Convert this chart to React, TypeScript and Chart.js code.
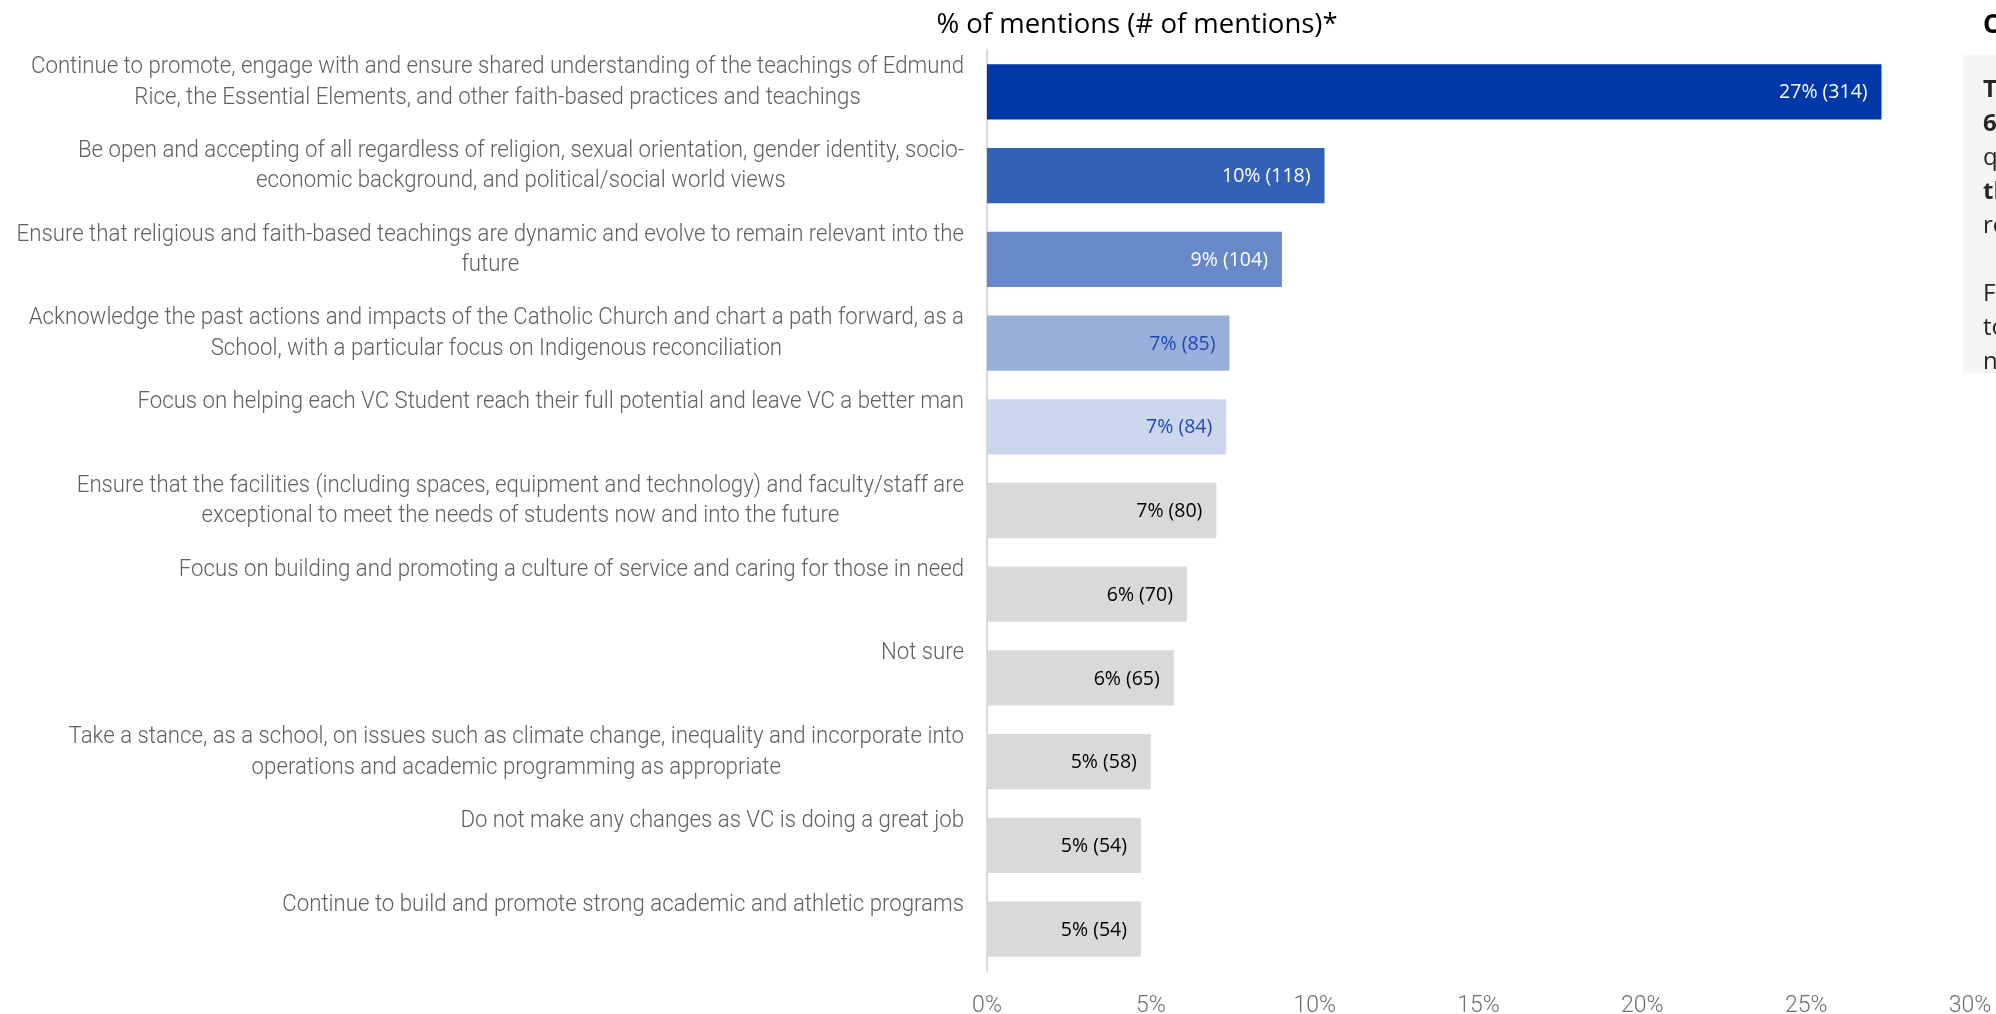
import React, { useEffect, useRef } from "react";
import { Chart, registerables } from "chart.js";

Chart.register(...registerables);

const categories: string[][] = [
  [
    "Continue to promote, engage with and ensure shared understanding of the teachings of Edmund",
    "Rice, the Essential Elements, and other faith-based practices and teachings",
  ],
  [
    "Be open and accepting of all regardless of religion, sexual orientation, gender identity, socio-",
    "economic background, and political/social world views",
  ],
  [
    "Ensure that religious and faith-based teachings are dynamic and evolve to remain relevant into the",
    "future",
  ],
  [
    "Acknowledge the past actions and impacts of the Catholic Church and chart a path forward, as a",
    "School, with a particular focus on Indigenous reconciliation",
  ],
  ["Focus on helping each VC Student reach their full potential and leave VC a better man"],
  [
    "Ensure that the facilities (including spaces, equipment and technology) and faculty/staff are",
    "exceptional to meet the needs of students now and into the future",
  ],
  ["Focus on building and promoting a culture of service and caring for those in need"],
  ["Not sure"],
  [
    "Take a stance, as a school, on issues such as climate change, inequality and incorporate into",
    "operations and academic programming as appropriate",
  ],
  ["Do not make any changes as VC is doing a great job"],
  ["Continue to build and promote strong academic and athletic programs"],
];

const percentages = [27.3, 10.3, 9.0, 7.4, 7.3, 7.0, 6.1, 5.7, 5.0, 4.7, 4.7];
const mentions = [314, 118, 104, 85, 84, 80, 70, 65, 58, 54, 54];
const xTickValues = [0, 5, 10, 15, 20, 25, 30];

const barColors = [
  "#0038A8",
  "#3361B7",
  "#6788C9",
  "#9AB0DC",
  "#CCD7EE",
  "#D9D9D9",
  "#D9D9D9",
  "#D9D9D9",
  "#D9D9D9",
  "#D9D9D9",
  "#D9D9D9",
];
const labelColors = [
  "#FFFFFF",
  "#FFFFFF",
  "#FFFFFF",
  "#1E48B0",
  "#1E48B0",
  "#000000",
  "#000000",
  "#000000",
  "#000000",
  "#000000",
  "#000000",
];

const LABEL_FONT = "Roboto, 'Open Sans', sans-serif";
const SANS = "'Open Sans', 'Noto Sans', sans-serif";

const panelLines: { text: string; bold: boolean }[] = [
  { text: "The question was answered by", bold: true },
  { text: "612 respondents. The open-ended", bold: true },
  { text: "question asked what should be", bold: false },
  { text: "the top priorities for the School", bold: true },
  { text: "relating to its Catholic identity.", bold: false },
  { text: "\u00a0", bold: false },
  { text: "Feedback has been coded into", bold: false },
  { text: "topics, with each comment given", bold: false },
  { text: "no more than one mention per topic.", bold: false },
];

export default function App() {
  const canvasRef = useRef<HTMLCanvasElement | null>(null);

  useEffect(() => {
    const canvas = canvasRef.current;
    if (!canvas) return;

    const dataLabelPlugin = {
      id: "dataLabels",
      afterDatasetsDraw(chart: any) {
        const ctx = chart.ctx;
        const meta = chart.getDatasetMeta(0);
        ctx.save();
        ctx.font = `19.5px ${SANS}`;
        ctx.textAlign = "right";
        ctx.textBaseline = "middle";
        meta.data.forEach((bar: any, i: number) => {
          ctx.fillStyle = labelColors[i];
          const txt = `${Math.round(percentages[i])}% (${mentions[i]})`;
          ctx.fillText(txt, bar.x - 14, bar.y + 1);
        });
        ctx.restore();
      },
    };

    const categoryLabelPlugin = {
      id: "categoryLabels",
      afterDraw(chart: any) {
        const ctx = chart.ctx;
        const meta = chart.getDatasetMeta(0);
        const right = chart.chartArea.left - 23;
        const lineH = 30.5;
        ctx.save();
        ctx.font = `300 24px ${LABEL_FONT}`;
        // condense horizontally to mimic a narrow light face
        const squeeze = 933 / ctx.measureText(categories[0][0]).width;
        ctx.fillStyle = "#606060";
        ctx.textBaseline = "middle";
        ctx.textAlign = "center";
        meta.data.forEach((bar: any, i: number) => {
          const lines = categories[i];
          const widths = lines.map((l) => ctx.measureText(l).width * squeeze);
          const blockW = Math.max(...widths);
          const cx = right - blockW / 2;
          const top = bar.y - bar.height / 2 + 3;
          lines.forEach((l, j) => {
            ctx.save();
            ctx.translate(cx, top + j * lineH);
            ctx.scale(squeeze, 1);
            ctx.fillText(l, 0, 0);
            ctx.restore();
          });
        });
        ctx.restore();
      },
    };

    const chart = new Chart(canvas, {
      type: "bar",
      data: {
        labels: categories.map((c) => c.join(" ")),
        datasets: [
          {
            data: percentages,
            backgroundColor: barColors,
            barPercentage: 0.66,
            categoryPercentage: 1,
          },
        ],
      },
      options: {
        indexAxis: "y",
        animation: false,
        responsive: true,
        maintainAspectRatio: false,
        layout: { padding: { left: 987, top: 50, right: 26, bottom: 0 } },
        plugins: {
          legend: { display: false },
          tooltip: { enabled: false },
          title: { display: false },
        },
        scales: {
          x: {
            min: 0,
            max: 30,
            afterBuildTicks: (scale: any) => {
              scale.ticks = xTickValues.map((v) => ({ value: v }));
            },
            ticks: {
              callback: (v: any) => `${v}%`,
              font: { family: LABEL_FONT, size: 23, weight: "300" },
              color: "#6E6E6E",
              padding: 21,
              maxRotation: 0,
            },
            grid: { display: false, drawTicks: false },
            border: { display: false },
            afterFit: (scale: any) => {
              scale.height = 43;
              scale.paddingLeft = 0;
              scale.paddingRight = 0;
            },
          },
          y: {
            ticks: { display: false },
            grid: { display: false, drawTicks: false },
            border: { display: true, color: "#D9D9D9", width: 2 },
            afterFit: (scale: any) => {
              scale.width = 0;
            },
          },
        },
      },
      plugins: [dataLabelPlugin, categoryLabelPlugin],
    } as any);

    return () => {
      chart.destroy();
    };
  }, []);

  return (
    <div
      style={{
        position: "fixed",
        left: 0,
        top: 0,
        width: "100vw",
        height: "100vh",
        overflow: "hidden",
        background: "#FFFFFF",
      }}
    >
      <div style={{ position: "absolute", left: 0, top: 0, width: 1996, height: 1014 }}>
        <canvas ref={canvasRef} />
      </div>
      <div
        style={{
          position: "absolute",
          left: 1137,
          top: 23,
          transform: "translate(-50%, -50%)",
          whiteSpace: "nowrap",
          fontFamily: SANS,
          fontSize: 27.5,
          color: "#000000",
          lineHeight: 1,
        }}
      >
        % of mentions (# of mentions)*
      </div>
      <div
        style={{
          position: "absolute",
          left: 1983,
          top: 23,
          transform: "translateY(-50%)",
          whiteSpace: "nowrap",
          fontFamily: SANS,
          fontWeight: 700,
          fontSize: 26,
          color: "#000000",
          lineHeight: 1,
        }}
      >
        Comments
      </div>
      <div
        style={{
          position: "absolute",
          left: 1963,
          top: 55,
          width: 400,
          height: 318,
          background: "#F5F5F5",
          boxSizing: "border-box",
          paddingLeft: 20,
          paddingTop: 16,
          fontFamily: SANS,
          fontSize: 24,
          lineHeight: "34px",
          color: "#262626",
        }}
      >
        {panelLines.map((l, i) => (
          <div key={i} style={{ whiteSpace: "nowrap", fontWeight: l.bold ? 700 : 400 }}>
            {l.text}
          </div>
        ))}
      </div>
    </div>
  );
}
